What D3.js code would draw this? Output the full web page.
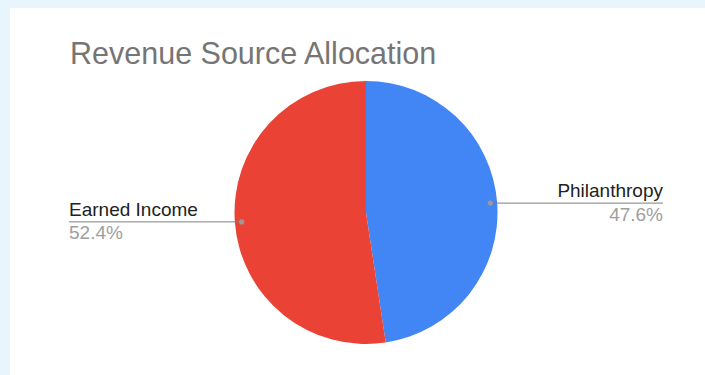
<!DOCTYPE html>
<html>
<head>
<meta charset="utf-8">
<script src="https://cdn.jsdelivr.net/npm/d3@7"></script>
<style>
  html, body { margin: 0; padding: 0; background: #e8f5fc; }
  svg { display: block; }
  text { font-family: "Liberation Sans", Arial, sans-serif; }
</style>
</head>
<body>
<svg id="chart" width="705" height="375"></svg>
<script>
const categories = ["Philanthropy", "Earned Income"];
const shares = [47.6, 52.4];
const colors = ["#4285f4", "#ea4335"];
const title = "Revenue Source Allocation";

const svg = d3.select("#chart");
const W = 705, H = 375;

// card
svg.append("rect").attr("x", 10).attr("y", 8).attr("width", W - 10).attr("height", H - 8)
  .attr("fill", "#ffffff");

svg.append("text")
  .attr("x", 70).attr("y", 64)
  .attr("font-size", 30.5)
  .attr("fill", "#757575")
  .text(title);

const cx = 366, cy = 212.5, R = 131.5;
const data = categories.map((c, i) => ({ name: c, value: shares[i], color: colors[i] }));

const pie = d3.pie().value(d => d.value).sort(null);
const arc = d3.arc().innerRadius(0).outerRadius(R);
const arcs = pie(data);

const g = svg.append("g").attr("transform", `translate(${cx},${cy})`);
g.selectAll("path").data(arcs).join("path")
  .attr("d", arc)
  .attr("fill", d => d.data.color);

// leader lines & labels
const dotR = R * 0.948;
const fmt = v => v.toFixed(1) + "%";
arcs.forEach(a => {
  const mid = (a.startAngle + a.endAngle) / 2;
  const px = cx + dotR * Math.sin(mid);
  const py = cy - dotR * Math.cos(mid);
  const right = Math.sin(mid) > 0;
  const endX = right ? 663 : 69;
  svg.append("line")
    .attr("x1", px).attr("y1", py).attr("x2", endX).attr("y2", py)
    .attr("stroke", "#7f7f7f").attr("stroke-width", 1);
  svg.append("circle").attr("cx", px).attr("cy", py).attr("r", 2.6).attr("fill", "#9a9a9a");
  const anchor = right ? "end" : "start";
  svg.append("text")
    .attr("x", endX).attr("y", py - 6)
    .attr("text-anchor", anchor)
    .attr("font-size", 19)
    .attr("fill", "#222222")
    .text(a.data.name);
  svg.append("text")
    .attr("x", endX).attr("y", py + 17.5)
    .attr("text-anchor", anchor)
    .attr("font-size", 19)
    .attr("fill", "#9e9e9e")
    .text(fmt(a.data.value));
});
</script>
</body>
</html>
